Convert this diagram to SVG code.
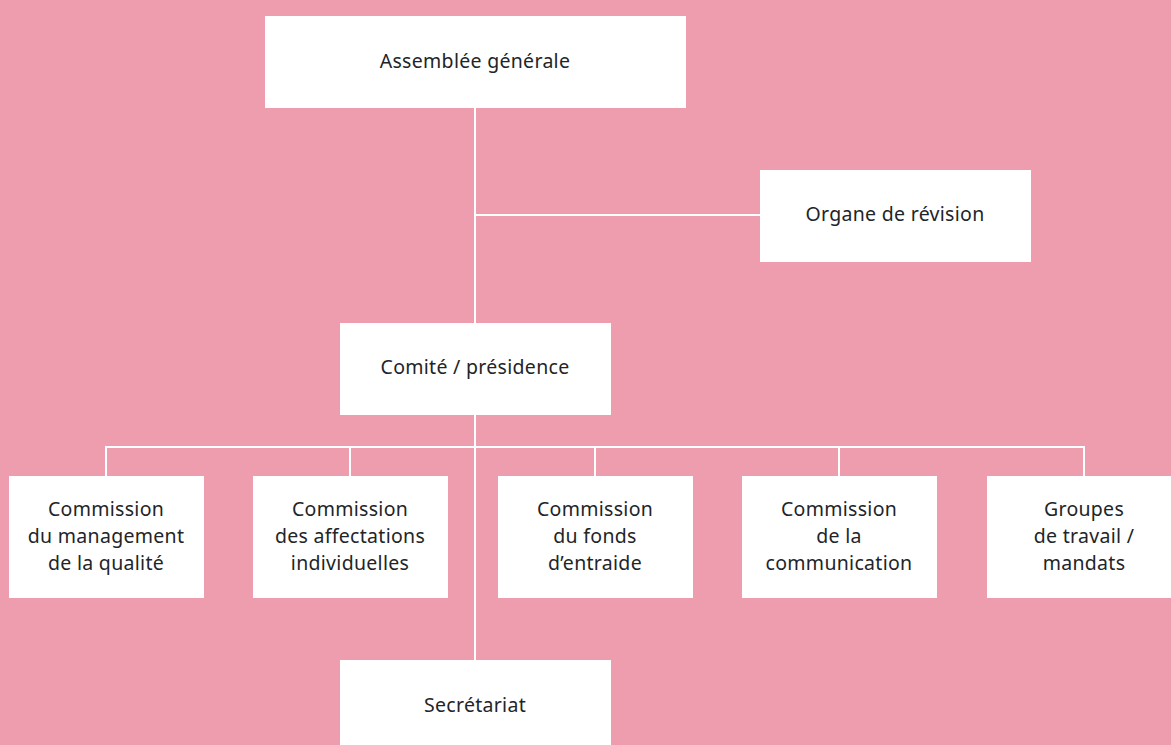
<svg xmlns="http://www.w3.org/2000/svg" width="1171" height="745" viewBox="0 0 1171 745">
<style>
.box{fill:#ffffff}
.t{font-family:"Noto Sans","Open Sans",sans-serif;font-size:19.5px;fill:#222428;text-anchor:middle;letter-spacing:0.3px}
.c{stroke:#ffffff;stroke-width:2;fill:none}
</style>
<rect width="1171" height="745" fill="#ee9dae"/>
<g id="connectors">
<line class="c" x1="475" y1="108" x2="475" y2="660"/>
<line class="c" x1="475" y1="215" x2="760" y2="215"/>
<polyline class="c" points="106,476 106,447 1084,447 1084,476"/>
<line class="c" x1="350" y1="447" x2="350" y2="476"/>
<line class="c" x1="595" y1="447" x2="595" y2="476"/>
<line class="c" x1="839" y1="447" x2="839" y2="476"/>
</g>
<g id="assemblee">
<rect class="box" x="265" y="16" width="421" height="92"/>
<text class="t" x="475" y="68">Assemblée générale</text>
</g>
<g id="organe">
<rect class="box" x="760" y="170" width="271" height="92"/>
<text class="t" x="895" y="221">Organe de révision</text>
</g>
<g id="comite">
<rect class="box" x="340" y="323" width="271" height="92"/>
<text class="t" x="475" y="374">Comité / présidence</text>
</g>
<g id="commission-qualite">
<rect class="box" x="9" y="476" width="195" height="122"/>
<text class="t" x="106" y="516">Commission</text>
<text class="t" x="106" y="543">du management</text>
<text class="t" x="106" y="570">de la qualité</text>
</g>
<g id="commission-affectations">
<rect class="box" x="253" y="476" width="195" height="122"/>
<text class="t" x="350" y="516">Commission</text>
<text class="t" x="350" y="543">des affectations</text>
<text class="t" x="350" y="570">individuelles</text>
</g>
<g id="commission-fonds">
<rect class="box" x="498" y="476" width="195" height="122"/>
<text class="t" x="595" y="516">Commission</text>
<text class="t" x="595" y="543">du fonds</text>
<text class="t" x="595" y="570">d’entraide</text>
</g>
<g id="commission-communication">
<rect class="box" x="742" y="476" width="195" height="122"/>
<text class="t" x="839" y="516">Commission</text>
<text class="t" x="839" y="543">de la</text>
<text class="t" x="839" y="570">communication</text>
</g>
<g id="groupes">
<rect class="box" x="987" y="476" width="195" height="122"/>
<text class="t" x="1084" y="516">Groupes</text>
<text class="t" x="1084" y="543">de travail /</text>
<text class="t" x="1084" y="570">mandats</text>
</g>
<g id="secretariat">
<rect class="box" x="340" y="660" width="271" height="100"/>
<text class="t" x="475" y="712">Secrétariat</text>
</g>
</svg>
